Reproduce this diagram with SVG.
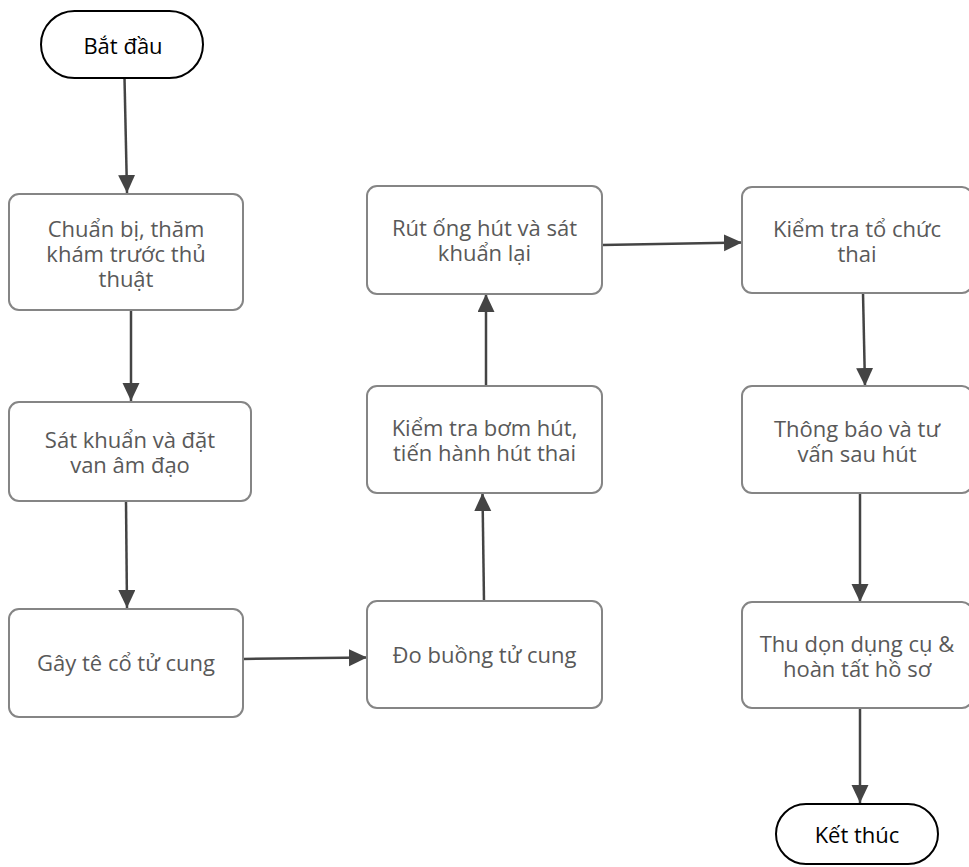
<svg xmlns="http://www.w3.org/2000/svg" width="969" height="867" viewBox="0 0 969 867">
  <style>
    .box { fill: #ffffff; stroke: #858585; stroke-width: 2; }
    .term { fill: #ffffff; stroke: #000000; stroke-width: 2; }
    .lbl { font-family: "Open Sans", "Noto Sans", "DejaVu Sans", sans-serif; font-size: 22px; fill: #595959; text-anchor: middle; }
    .tlbl { font-family: "Open Sans", "Noto Sans", "DejaVu Sans", sans-serif; font-size: 22px; fill: #000000; text-anchor: middle; }
    .edge { fill: none; stroke: #444444; stroke-width: 2.5; }
  </style>
  <defs>
    <marker id="arrow" markerUnits="userSpaceOnUse" markerWidth="19" markerHeight="18" refX="18" refY="8.5" orient="auto">
      <path d="M0,0 L18,8.5 L0,17 Z" fill="#444444"/>
    </marker>
  </defs>
  <rect width="969" height="867" fill="#ffffff"/>

  <g id="connectors">
    <line class="edge" x1="124.5" y1="78" x2="127" y2="193" marker-end="url(#arrow)"/>
    <line class="edge" x1="131" y1="310" x2="131" y2="401" marker-end="url(#arrow)"/>
    <line class="edge" x1="126" y1="501" x2="127" y2="608" marker-end="url(#arrow)"/>
    <line class="edge" x1="243" y1="659" x2="367" y2="657.5" marker-end="url(#arrow)"/>
    <line class="edge" x1="484" y1="601" x2="482.5" y2="493" marker-end="url(#arrow)"/>
    <line class="edge" x1="486" y1="386" x2="486" y2="294" marker-end="url(#arrow)"/>
    <line class="edge" x1="602" y1="245" x2="742" y2="242.5" marker-end="url(#arrow)"/>
    <line class="edge" x1="863" y1="293" x2="865" y2="386" marker-end="url(#arrow)"/>
    <line class="edge" x1="860" y1="493" x2="860" y2="602" marker-end="url(#arrow)"/>
    <line class="edge" x1="860" y1="708" x2="860" y2="803" marker-end="url(#arrow)"/>
  </g>

  <g id="start">
    <rect class="term" x="41" y="11" width="162" height="67" rx="33.5"/>
    <text class="tlbl" x="123" y="54">Bắt đầu</text>
  </g>

  <g id="prepare">
    <rect class="box" x="9" y="194" width="234" height="116" rx="10"/>
    <text class="lbl" x="126" y="237">Chuẩn bị, thăm</text>
    <text class="lbl" x="126" y="262">khám trước thủ</text>
    <text class="lbl" x="126" y="287">thuật</text>
  </g>

  <g id="disinfect">
    <rect class="box" x="9" y="402" width="242" height="99" rx="10"/>
    <text class="lbl" x="130" y="448">Sát khuẩn và đặt</text>
    <text class="lbl" x="130" y="473">van âm đạo</text>
  </g>

  <g id="anesthesia">
    <rect class="box" x="9" y="609" width="234" height="108" rx="10"/>
    <text class="lbl" x="126" y="671">Gây tê cổ tử cung</text>
  </g>

  <g id="measure">
    <rect class="box" x="367" y="601" width="235" height="107" rx="10"/>
    <text class="lbl" x="484.5" y="663">Đo buồng tử cung</text>
  </g>

  <g id="aspirate">
    <rect class="box" x="367" y="386" width="235" height="107" rx="10"/>
    <text class="lbl" x="484.5" y="436">Kiểm tra bơm hút,</text>
    <text class="lbl" x="484.5" y="461">tiến hành hút thai</text>
  </g>

  <g id="withdraw">
    <rect class="box" x="367" y="186" width="235" height="108" rx="10"/>
    <text class="lbl" x="484.5" y="236">Rút ống hút và sát</text>
    <text class="lbl" x="484.5" y="261">khuẩn lại</text>
  </g>

  <g id="inspect">
    <rect class="box" x="742" y="187" width="230" height="106" rx="10"/>
    <text class="lbl" x="857" y="237">Kiểm tra tổ chức</text>
    <text class="lbl" x="857" y="262">thai</text>
  </g>

  <g id="counsel">
    <rect class="box" x="742" y="386" width="230" height="107" rx="10"/>
    <text class="lbl" x="857" y="437">Thông báo và tư</text>
    <text class="lbl" x="857" y="462">vấn sau hút</text>
  </g>

  <g id="cleanup">
    <rect class="box" x="742" y="602" width="230" height="106" rx="10"/>
    <text class="lbl" x="857" y="652">Thu dọn dụng cụ &amp;</text>
    <text class="lbl" x="857" y="677">hoàn tất hồ sơ</text>
  </g>

  <g id="end">
    <rect class="term" x="776" y="804" width="162" height="60" rx="30"/>
    <text class="tlbl" x="857" y="843">Kết thúc</text>
  </g>
</svg>
